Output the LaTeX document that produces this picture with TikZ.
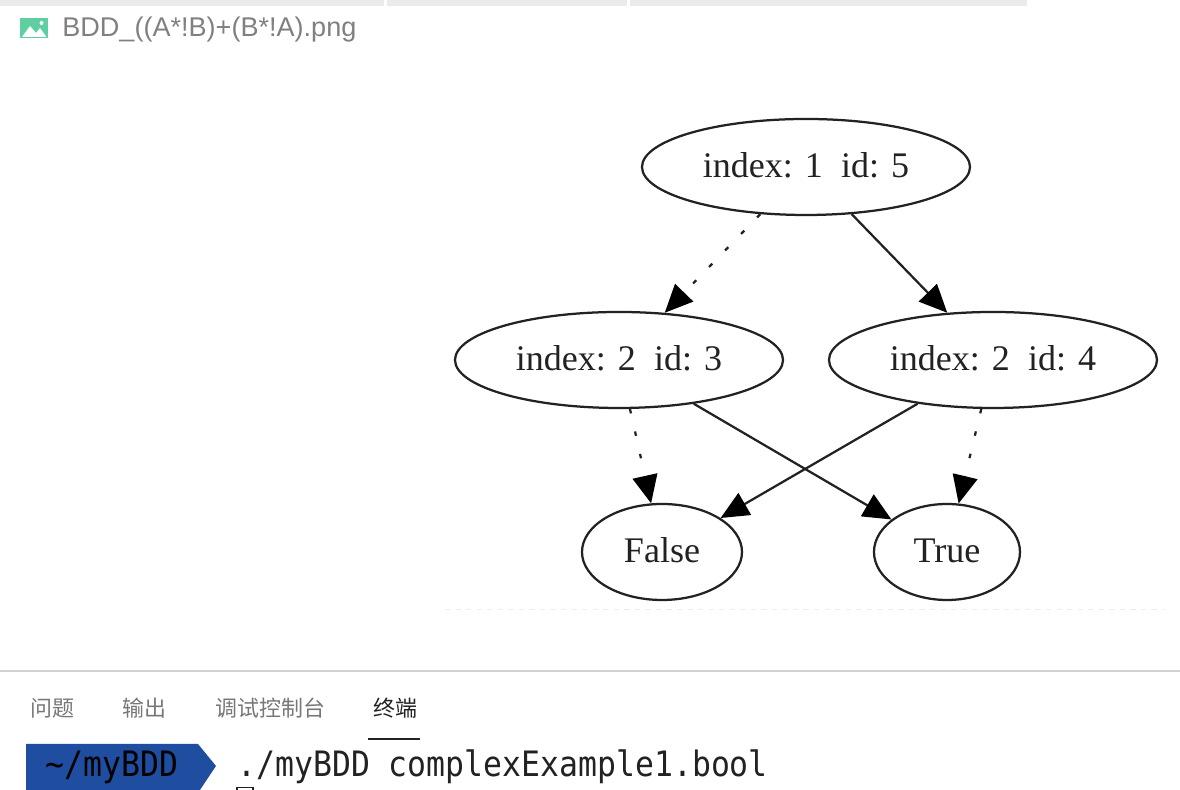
\documentclass[tikz,border=0pt]{standalone}
\usepackage{fontspec}
\setmainfont{Liberation Serif}
\newfontfamily\uifont{Liberation Sans}
\newfontfamily\termfont[FakeStretch=0.9]{DejaVu Sans Mono}
\newfontfamily\cjkfont{Noto Sans CJK SC}
\usetikzlibrary{shapes.geometric,arrows.meta}
\definecolor{tabgray}{HTML}{777777}
\definecolor{barblue}{HTML}{1F4EA1}
\definecolor{icongreen}{HTML}{5FCFA2}
\definecolor{inkdark}{HTML}{222222}
\tikzset{
    bddnode/.style={draw=inkdark, line width=0.045cm, ellipse, inner sep=0pt, minimum height=1.92cm, text height=0.5cm, text depth=0.06cm, font=\fontsize{20.5}{24}\selectfont, text=inkdark},
    hiedge/.style={draw=inkdark, line width=0.045cm, -{Stealth[length=0.56cm,width=0.5cm,inset=0pt,color=black]}},
    loedge/.style={hiedge, dash pattern=on 0.09cm off 0.37cm},
    tablabel/.style={font=\cjkfont\fontsize{12.5}{15}\selectfont, text=tabgray, inner sep=0pt},
    termtext/.style={font=\termfont\fontsize{19.9}{23}\selectfont, inner sep=0pt}
}
\begin{document}
\begin{tikzpicture}
    \useasboundingbox (0,0) rectangle (23.6,15.8);
    % editor title
        \fill[black!8] (0,15.68) rectangle (20.54,15.8);
        \fill[white] (7.68,15.68) rectangle (7.74,15.8);
        \fill[white] (12.54,15.68) rectangle (12.6,15.8);
        \fill[icongreen] (0.4,15.04) rectangle (0.96,15.44);
        \fill[white] (0.44,15.06) -- (0.6,15.28) -- (0.72,15.14) -- (0.8,15.24) -- (0.93,15.06) -- cycle;
        \fill[white] (0.83,15.34) circle (0.04cm);
        \node[anchor=west, inner sep=0pt, text=black!50, font=\uifont\fontsize{15.4}{18}\selectfont] (title) at (1.24,15.2) {BDD\_((A*!B)+(B*!A).png};
    % graph
        \draw[black!7, line width=0.02cm, dashed] (8.9,3.6) -- (23.3,3.6);
        \node[bddnode, minimum width=6.56cm] (root) at (16.12,12.46) {index: 1\ \ id: 5};
        \node[bddnode, minimum width=6.56cm] (left) at (12.38,8.6) {index: 2\ \ id: 3};
        \node[bddnode, minimum width=6.56cm] (right) at (19.86,8.6) {index: 2\ \ id: 4};
        \node[bddnode, minimum width=3.2cm] (false) at (13.24,4.76) {False};
        \node[bddnode, minimum width=2.92cm] (true) at (18.94,4.76) {True};
        \draw[loedge] (root) -- (left);
        \draw[hiedge] (root) -- (right);
        \draw[loedge] (left) -- (false);
        \draw[hiedge] (left) -- (true);
        \draw[hiedge] (right) -- (false);
        \draw[loedge] (right) -- (true);
    % panel tabs
        \draw[black!18, line width=0.04cm] (0,2.38) -- (23.6,2.38);
        \node[tablabel, anchor=west] (problems) at (0.6,1.64) {问题};
        \node[tablabel, anchor=west] (output) at (2.44,1.64) {输出};
        \node[tablabel, anchor=west] (debug) at (4.3,1.64) {调试控制台};
        \node[tablabel, anchor=west, text=inkdark] (terminal) at (7.46,1.64) {终端};
        \draw[inkdark, line width=0.04cm] (7.36,1.02) -- (8.4,1.02);
    % terminal line
        \fill[barblue] (0.52,0.92) -- (3.96,0.92) -- (4.32,0.48) -- (4,0) -- (0.52,0) -- cycle;
        \node[termtext, anchor=west] (prompt) at (0.9,0.46) {\string~/myBDD};
        \node[termtext, anchor=west, text=inkdark] (command) at (4.74,0.46) {./myBDD complexExample1.bool};
        \draw[inkdark, line width=0.03cm] (4.74,0) -- (4.74,0.05) -- (5.06,0.05) -- (5.06,0);
\end{tikzpicture}
\end{document}
